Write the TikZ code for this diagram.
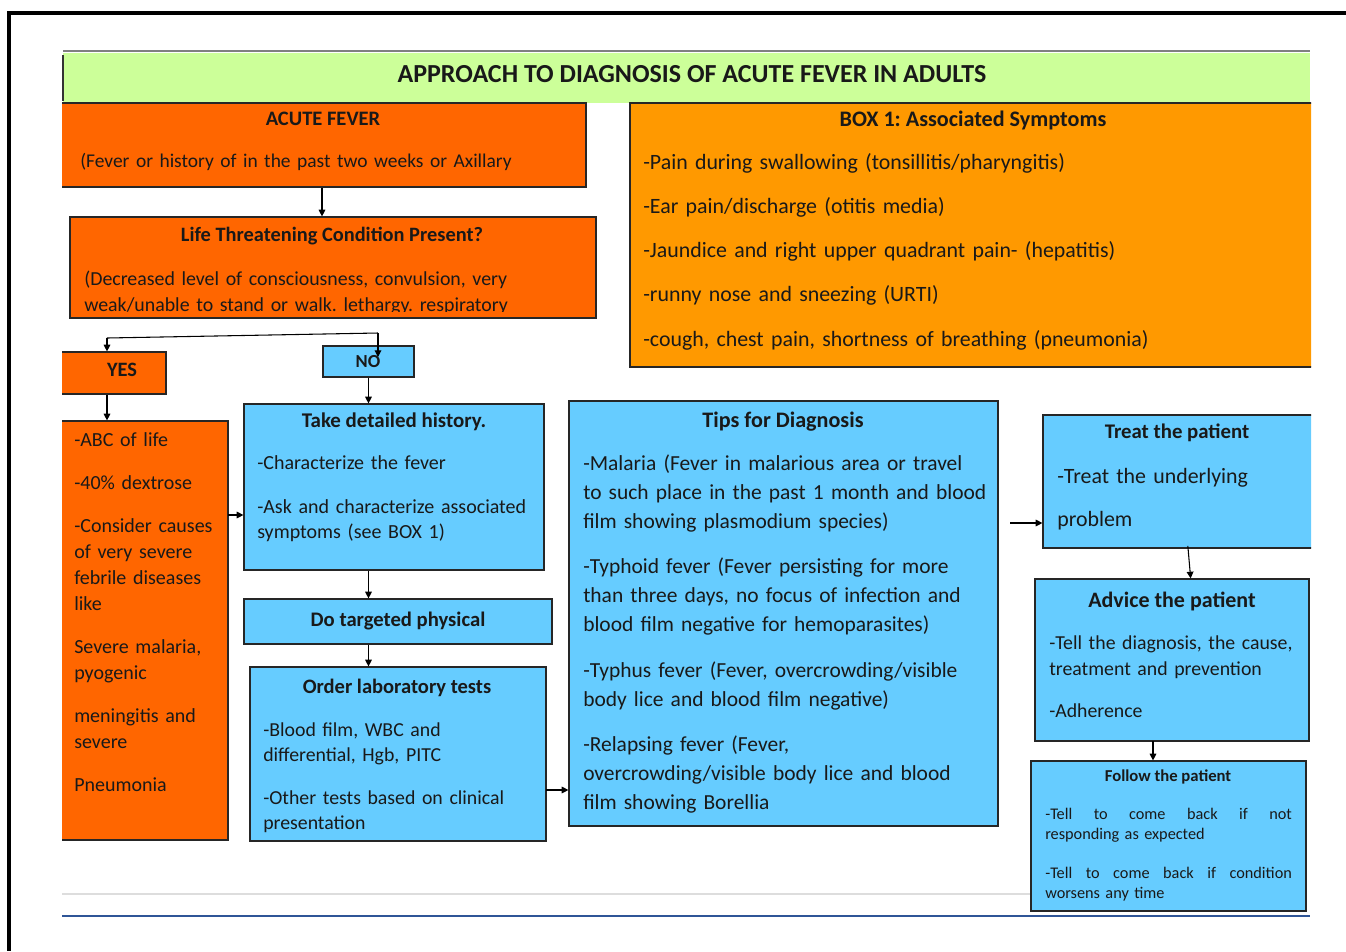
\documentclass[tikz,border=0pt]{standalone}
\usepackage{fontspec}
\setmainfont{Carlito}
\usetikzlibrary{arrows.meta,fit}
\definecolor{feverred}{HTML}{FF6600}
\definecolor{boxorange}{HTML}{FF9900}
\definecolor{skyblue}{HTML}{66CCFF}
\definecolor{titlegreen}{HTML}{CCFF99}
\definecolor{rulegray}{HTML}{DDDDDD}
\definecolor{ruleblue}{HTML}{2F5597}
\newcommand{\setfs}[2]{\fontsize{#1}{#2}\selectfont}
\newcommand{\spreadline}[1]{\makebox[185pt][l]{#1}}
\frenchspacing
\tikzset{
	box/.style={draw=black!85, line width=0.9pt, inner sep=0pt},
	redbox/.style={box, fill=feverred},
	orangebox/.style={box, fill=boxorange},
	bluebox/.style={box, fill=skyblue},
	head/.style={anchor=base, inner sep=0pt, text=black!90, font=\bfseries\setfs{#1}{1.2em}},
	body/.style={anchor=base west, inner sep=0pt, align=left, text width=20cm, text=black!90},
	link/.style={->, line width=0.8pt}
}
\begin{document}
\begin{tikzpicture}[x=0.75pt, y=-0.75pt, >={Triangle[length=5pt,width=5pt]}]
\useasboundingbox (0,0) rectangle (1346,951);
% page frame
\draw[line width=2.6pt] (1346,13) -- (9,13) -- (9,951);

\begin{scope}
\clip (62,0) rectangle (1311,951);
% title band
\fill[titlegreen] (63,53) rectangle (1310,103);
\draw[gray, line width=1.2pt] (63,51) -- (1310,51);
\draw[black!80, line width=1pt] (63,55) -- (63,101);
\node[head=19.5] (title) at (692,82) {APPROACH TO DIAGNOSIS OF ACUTE FEVER IN ADULTS};

% orange boxes
\node[redbox, fit={(58,103) (586,187)}] (acute) {};
\node[orangebox, fit={(630,103) (1314,367)}] (box1) {};
\node[redbox, fit={(70,217) (596,318)}] (life) {};
\node[redbox, fit={(58,352) (166,394)}] (yes) {};
\node[redbox, fit={(58,421) (228,840)}] (severe) {};

% blue boxes
\node[bluebox, fit={(323,346) (414,377)}] (no) {};
\node[bluebox, fit={(244,404) (544,570)}] (hist) {};
\node[bluebox, fit={(244,599) (552,644)}] (phys) {};
\node[bluebox, fit={(250,667) (546,841)}] (lab) {};
\node[bluebox, fit={(569,401) (998,826)}] (tips) {};
\node[bluebox, fit={(1043,415) (1314,548)}] (treat) {};
\node[bluebox, fit={(1035,579) (1309,741)}] (advice) {};
\node[bluebox, fit={(1031,761) (1306,911)}] (follow) {};

% headings
\node[head=15.4] (acutehd) at (323,125) {ACUTE FEVER};
\node[head=16.6] (box1hd) at (973,126) {BOX 1: Associated Symptoms};
\node[head=15.3] (lifehd) at (332,241) {Life Threatening Condition Present?};
\node[head=15.3] (yeshd) at (122,376) {YES};
\node[head=13.8] (nohd) at (368,367) {NO};
\node[head=15.7] (histhd) at (394,427) {Take detailed history.};
\node[head=15.5] (physhd) at (398,626) {Do targeted physical};
\node[head=15.4] (labhd) at (397,693) {Order laboratory tests};
\node[head=16.6] (tipshd) at (783,427) {Tips for Diagnosis};
\node[head=15.6] (treathd) at (1177,438) {Treat the patient};
\node[head=16.5] (advicehd) at (1172,607) {Advice the patient};
\node[head=12.5] (followhd) at (1168,781) {Follow the patient};

% texts
\node[body, font=\setfs{14.6}{18}] (acutetx) at (80,167) {(Fever or history of in the past two weeks or Axillary};
\node[body, font=\setfs{16.4}{33.2}] (box1tx) at (643,169) {-Pain during swallowing (tonsillitis/pharyngitis)\\
-Ear pain/discharge (otitis media)\\
-Jaundice and right upper quadrant pain- (hepatitis)\\
-runny nose and sneezing (URTI)\\
-cough, chest pain, shortness of breathing (pneumonia)};
\begin{scope}
\clip (70,217) rectangle (596,311.5);
\node[body, font=\setfs{14.9}{19.5}] (lifetx) at (84,285) {(Decreased level of consciousness, convulsion, very\\
weak/unable to stand or walk. lethargy. respiratory};
\end{scope}
\node[body, font=\setfs{15}{19.5}] (severetx) at (74,446) {-ABC of life\\[12.75pt]
-40\% dextrose\\[12.75pt]
-Consider causes\\ of very severe\\ febrile diseases\\ like\\[12.75pt]
Severe malaria,\\ pyogenic\\[12.75pt]
meningitis and\\ severe\\[12.75pt]
Pneumonia};
\node[body, font=\setfs{15}{18.75}] (histtx) at (257,469) {-Characterize the fever\\[14.25pt]
-Ask and characterize associated\\ symptoms (see BOX 1)};
\node[body, font=\setfs{14.85}{18.75}] (labtx) at (263,736) {-Blood film, WBC and\\ differential, Hgb, PITC\\[13.5pt]
-Other tests based on clinical\\ presentation};
\node[body, font=\setfs{16.1}{21.75}] (tipstx) at (583,470) {-Malaria (Fever in malarious area or travel\\
to such place in the past 1 month and blood\\
film showing plasmodium species)\\[12.4pt]
-Typhoid fever (Fever persisting for more\\
than three days, no focus of infection and\\
blood film negative for hemoparasites)\\[12.4pt]
-Typhus fever (Fever, overcrowding/visible\\
body lice and blood film negative)\\[12.4pt]
-Relapsing fever (Fever,\\
overcrowding/visible body lice and blood\\
film showing Borellia};
\node[body, font=\setfs{16.4}{32.25}] (treattx) at (1057,483) {-Treat the underlying\\ problem};
\node[body, font=\setfs{14.85}{19.5}] (advicetx) at (1049,649) {-Tell the diagnosis, the cause,\\ treatment and prevention\\[12pt]
-Adherence};
\node[body, font=\setfs{12.2}{15}] (followtx) at (1045,819) {\spreadline{-Tell\hfill to\hfill come\hfill back\hfill if\hfill not}\\
responding as expected\\[14.25pt]
\spreadline{-Tell\hfill to\hfill come\hfill back\hfill if\hfill condition}\\
worsens any time};

% bottom rules
\draw[rulegray, line width=0.8pt] (62,894) -- (follow.west |- 0,894);
\draw[ruleblue, line width=1pt] (62,916) -- (1310,916);
\end{scope}

% connectors
\coordinate (brY) at (107,338);
\coordinate (brN) at (378,333);
\coordinate (sevout) at (228,515);
\coordinate (labout) at (546,790);
\coordinate (tipsout) at (1010,523);
\coordinate (advout) at (1153,741);
\draw[link] (acute.south) -- (acute.south |- life.north);
\draw[line width=0.8pt] (brY) -- (brN);
\draw[link] (brY) -- (brY |- yes.north);
\draw[link] (brN) -- (378,357);
\draw[link] (brY |- yes.south) -- (brY |- severe.north);
\draw[link] (no.south) -- (no.south |- hist.north);
\draw[link] (sevout) -- (sevout -| hist.west);
\draw[link] (no.south |- hist.south) -- (no.south |- phys.north);
\draw[link] (no.south |- phys.south) -- (no.south |- lab.north);
\draw[link] (labout) -- (labout -| tips.west);
\draw[link] (tipsout) -- (tipsout -| treat.west);
\draw[link] ([xshift=7pt,yshift=2pt]treat.south) -- ([xshift=14pt]advice.north);
\draw[link] (advout) -- (advout |- follow.north);
\end{tikzpicture}
\end{document}
